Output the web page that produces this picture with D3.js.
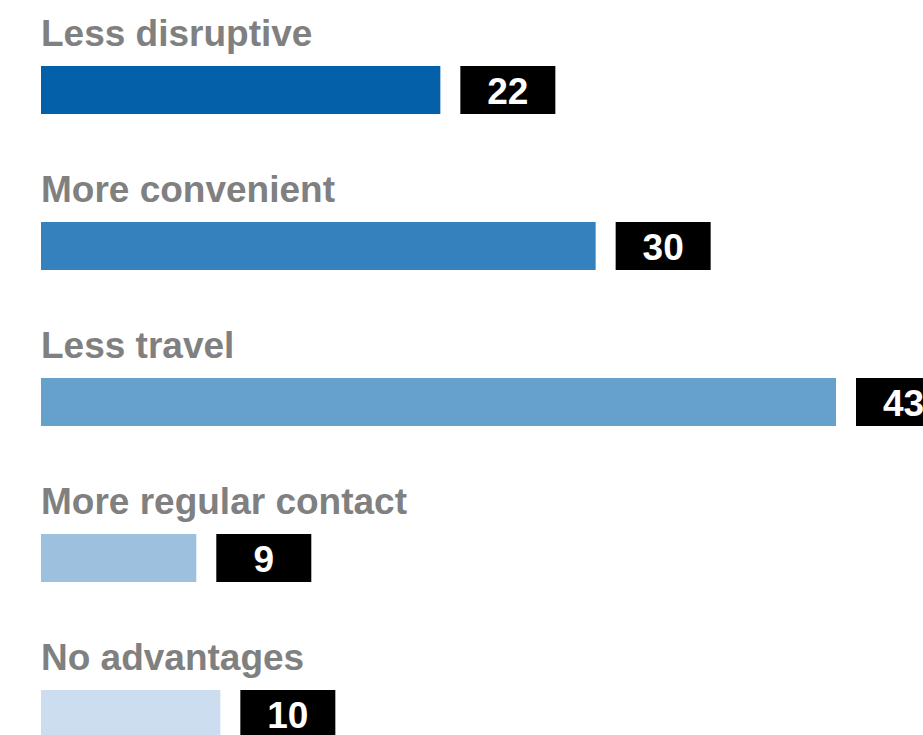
<!DOCTYPE html>
<html>
<head>
<meta charset="utf-8">
<script src="https://cdn.jsdelivr.net/npm/d3@7"></script>
<style>
  html, body { margin: 0; padding: 0; background: #fff; overflow: hidden; }
  svg { display: block; }
</style>
</head>
<body>
<div id="chart"></div>
<script>
// Chart data
const categories = ['Less disruptive', 'More convenient', 'Less travel', 'More regular contact', 'No advantages'];
const values = [21.6, 30, 43, 8.4, 9.7];      // bar lengths as drawn
const valueLabels = ['22', '30', '43', '9', '10'];
const colors = ['#0461a9', '#3481bd', '#66a0cd', '#9cc0dd', '#cbddee'];

const width = 923;
const height = 735;
const barHeight = 48;
const boxGap = 20;
const boxWidth = 95;

const svg = d3.select('#chart')
    .append('svg')
    .attr('width', width)
    .attr('height', height);

// Scales
const x = d3.scaleLinear()
    .domain([0, 43])
    .range([41, 836]);

const y = d3.scaleLinear()
    .domain([0, categories.length - 1])
    .range([66, 690]);

const rows = svg.selectAll('g.row')
    .data(categories)
    .enter()
    .append('g')
    .attr('class', 'row')
    .attr('transform', (d, i) => `translate(0, ${y(i)})`);

// Category labels
rows.append('text')
    .attr('x', x(0))
    .attr('y', -20)
    .attr('fill', '#808080')
    .style('font-family', 'Arial, "Liberation Sans", sans-serif')
    .style('font-weight', 'bold')
    .style('font-size', '37px')
    .text(d => d);

// Bars
rows.append('rect')
    .attr('x', x(0))
    .attr('y', 0)
    .attr('width', (d, i) => x(values[i]) - x(0))
    .attr('height', barHeight)
    .attr('fill', (d, i) => colors[i]);

// Value boxes
rows.append('rect')
    .attr('x', (d, i) => x(values[i]) + boxGap)
    .attr('y', 0)
    .attr('width', boxWidth)
    .attr('height', barHeight)
    .attr('fill', '#000');

rows.append('text')
    .attr('x', (d, i) => x(values[i]) + boxGap + boxWidth / 2)
    .attr('y', 38)
    .attr('text-anchor', 'middle')
    .attr('fill', '#fff')
    .style('font-family', 'Arial, "Liberation Sans", sans-serif')
    .style('font-weight', 'bold')
    .style('font-size', '37px')
    .text((d, i) => valueLabels[i]);
</script>
</body>
</html>
